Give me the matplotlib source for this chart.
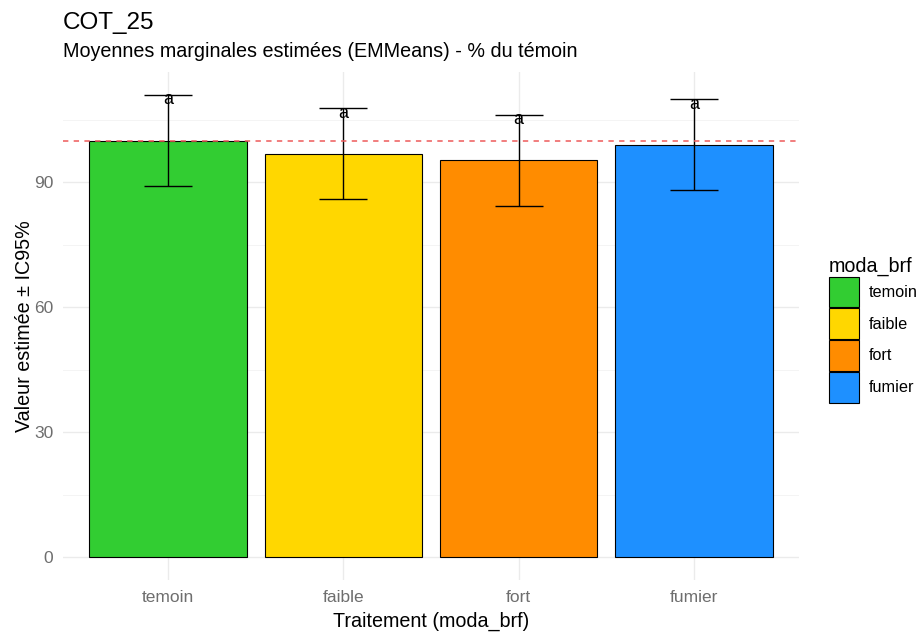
import matplotlib
matplotlib.use("Agg")
import matplotlib.pyplot as plt
from matplotlib.ticker import MultipleLocator
from matplotlib.patches import Patch

plt.rcParams['font.family'] = ['Liberation Sans', 'DejaVu Sans']

categories = ["temoin", "faible", "fort", "fumier"]
values = [100.0, 96.9, 95.3, 99.0]
lower = [89.1, 86.1, 84.4, 88.1]
upper = [111.0, 107.8, 106.2, 110.0]
letters = ["a", "a", "a", "a"]
colors = ["#32CD32", "#FFD700", "#FF8C00", "#1E90FF"]
yticks = [0, 30, 60, 90]
ref_line = 100

fig = plt.figure(figsize=(9.19, 6.35), dpi=100)
ax = fig.add_axes([63/919, 55/635, (799-63)/919, (580-72)/635])

x = list(range(1, len(categories) + 1))
ax.bar(x, values, width=0.9, color=colors, edgecolor="black", linewidth=0.8, zorder=3)
yerr = [[v - l for v, l in zip(values, lower)], [u - v for u, v in zip(upper, values)]]
ax.errorbar(x, values, yerr=yerr, fmt="none", ecolor="black", elinewidth=1.0,
             capsize=17.5, capthick=1.0, zorder=4)
ax.axhline(ref_line, color="#EE5A5A", linestyle=(0, (3.5, 3.5)), linewidth=1.1, zorder=5)
for xi, u, t in zip(x, upper, letters):
    ax.annotate(t, (xi, u), xytext=(0, -3.5), textcoords="offset points",
                ha="center", va="center", fontsize=13, color="black", zorder=6)

ymax = max(upper)
pad = 0.05 * ymax
ax.set_ylim(-pad, ymax + pad)
ax.set_xlim(0.4, len(categories) + 0.6)
ax.set_xticks(x)
ax.set_xticklabels(categories)
ax.set_yticks(yticks)
ax.yaxis.set_minor_locator(MultipleLocator(15))

for s in ax.spines.values():
    s.set_visible(False)
ax.tick_params(axis="both", which="both", length=0, colors="#6E6E6E", labelsize=12.5, pad=7)
ax.grid(True, which="major", color="#EBEBEB", linewidth=1.0, zorder=0)
ax.grid(True, which="minor", axis="y", color="#F2F2F2", linewidth=0.6, zorder=0)
ax.set_axisbelow(True)

ax.set_xlabel("Traitement (moda_brf)", fontsize=14.2, color="black", labelpad=5)
ax.set_ylabel("Valeur estimée ± IC95%", fontsize=14.2, color="black", labelpad=0)

fig.text(63/919, 1 - 29/635, "COT_25", fontsize=17.5, color="black", ha="left", va="baseline")
fig.text(63/919, 1 - 57/635, "Moyennes marginales estimées (EMMeans) - % du témoin",
         fontsize=14.2, color="black", ha="left", va="baseline")

handles = [Patch(facecolor=c, edgecolor="black", linewidth=0.8, label=cat)
           for c, cat in zip(colors, categories)]
leg = fig.legend(handles=handles, title="moda_brf", loc="upper left",
                 bbox_to_anchor=(822/919, 1 - 250/635), frameon=False,
                 fontsize=11.7, title_fontsize=14.2, handlelength=1.9, handleheight=2.55,
                 handletextpad=0.6, labelspacing=0.05, borderaxespad=0)
leg._legend_box.align = "left"

fig.savefig("out.png", dpi=100)
